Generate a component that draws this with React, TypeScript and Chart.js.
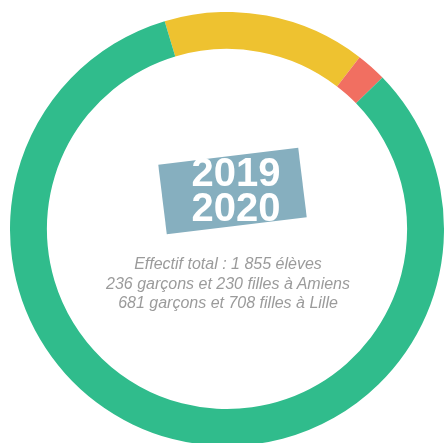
import React, { useEffect, useRef } from "react";
import { Chart, registerables } from "chart.js";

Chart.register(...registerables);

const categories = ["Segment jaune", "Segment rouge", "Segment vert"];
const values = [15.1, 2.25, 82.65];
const colors = ["#EEC230", "#F16F61", "#30BC8C"];
const yearLines = ["2019", "2020"];
const infoLines = [
  "Effectif total : 1 855 élèves",
  "236 garçons et 230 filles à Amiens",
  "681 garçons et 708 filles à Lille",
];

export default function App() {
  const ref = useRef<HTMLCanvasElement | null>(null);

  useEffect(() => {
    if (!ref.current) return;
    const chart = new Chart(ref.current, {
      type: "doughnut",
      data: {
        labels: categories,
        datasets: [
          {
            data: values,
            backgroundColor: colors,
            borderWidth: 0,
          },
        ],
      },
      options: {
        responsive: true,
        maintainAspectRatio: false,
        animation: false,
        rotation: -16.7,
        cutout: "83%",
        layout: { padding: 0 },
        plugins: {
          legend: { display: false },
          tooltip: { enabled: false },
        },
      },
    });
    return () => chart.destroy();
  }, []);

  return (
    <div
      style={{
        position: "fixed",
        left: 0,
        top: 0,
        width: 445,
        height: 443,
        overflow: "hidden",
        background: "#ffffff",
      }}
    >
      <div
        style={{
          position: "absolute",
          left: 10,
          top: 12,
          width: 434,
          height: 434,
        }}
      >
        <canvas ref={ref} />
      </div>
      <div
        style={{
          position: "absolute",
          left: 232 - 70.5,
          top: 191 - 35,
          width: 141,
          height: 70,
          background: "#86AFBF",
          transform: "rotate(-7deg)",
        }}
      />
      <div
        style={{
          position: "absolute",
          left: 136,
          top: 155,
          width: 200,
          textAlign: "center",
          color: "#ffffff",
          fontFamily: "'Liberation Sans', Arial, sans-serif",
          fontWeight: 700,
          fontSize: 40,
          lineHeight: "35px",
        }}
      >
        {yearLines.map((l) => (
          <div key={l}>{l}</div>
        ))}
      </div>
      <div
        style={{
          position: "absolute",
          left: 28,
          top: 254,
          width: 400,
          textAlign: "center",
          color: "#9B9B9B",
          fontFamily: "'Liberation Sans', Arial, sans-serif",
          fontStyle: "italic",
          fontSize: 16,
          lineHeight: "19.5px",
        }}
      >
        {infoLines.map((l) => (
          <div key={l}>{l}</div>
        ))}
      </div>
    </div>
  );
}
